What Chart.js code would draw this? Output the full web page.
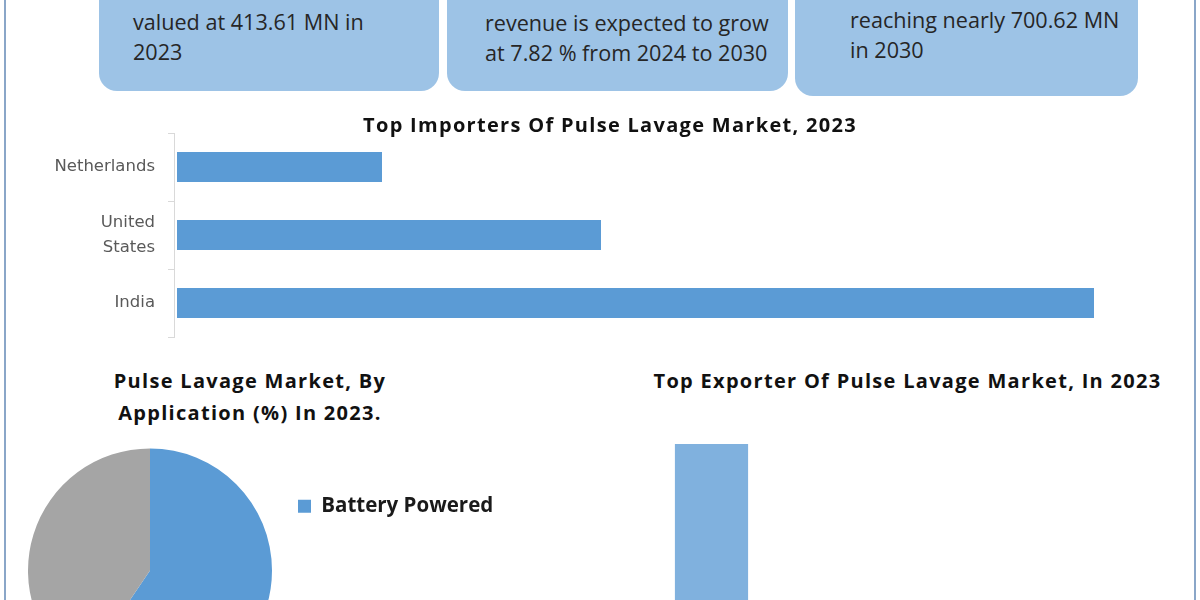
<!DOCTYPE html>
<html>
<head>
<meta charset="utf-8">
<title>Pulse Lavage Market</title>
<script src="https://cdn.jsdelivr.net/npm/chart.js"></script>
<style>
  html, body { margin: 0; padding: 0; }
  body { width: 1200px; height: 600px; overflow: hidden; position: relative; background: #fff; font-family: "Open Sans", sans-serif; }
  .frame { position: absolute; top: 0; width: 2px; height: 600px; background: #8aa6c8; }
  .box { position: absolute; background: #9dc3e6; border-radius: 18px; }
  .txt { position: absolute; white-space: nowrap; color: #262626; font-size: 21.6px; line-height: 30px; }
  .ttl { position: absolute; white-space: nowrap; color: #111; font-weight: 700; font-size: 20px; letter-spacing: 1.3px; line-height: 32px; text-align: center; }
  canvas { position: absolute; }
</style>
</head>
<body>
<div class="frame" style="left:4px"></div>
<div class="frame" style="left:1194px"></div>

<div class="box" style="left:99px; top:-40px; width:340px; height:131px"></div>
<div class="box" style="left:447px; top:-40px; width:341px; height:131px"></div>
<div class="box" style="left:795px; top:-40px; width:343px; height:136px"></div>

<div class="txt" style="left:133px; top:7px">valued at 413.61 MN in<br>2023</div>
<div class="txt" style="left:485px; top:8px">revenue is expected to grow<br>at 7.82 % from 2024 to 2030</div>
<div class="txt" style="left:850px; top:5px">reaching nearly 700.62 MN<br>in 2030</div>

<canvas id="importers" width="1200" height="224" style="left:0; top:123px"></canvas>
<canvas id="application" width="536" height="260" style="left:12px; top:440px"></canvas>
<canvas id="exporters" width="549" height="320" style="left:620px; top:420px"></canvas>

<div class="ttl" style="left:0; width:1220px; top:109px">Top Importers Of Pulse Lavage Market, 2023</div>
<div class="ttl" style="left:0; width:500px; top:365px">Pulse Lavage Market, By<br>Application (%) In 2023.</div>
<div class="ttl" style="left:615px; width:585px; top:365px">Top Exporter Of Pulse Lavage Market, In 2023</div>

<script>
// importers (bar lengths, arbitrary units)
const importCountries = ['Netherlands', ['United', 'States'], 'India'];
const importValues = [20.5, 42.4, 91.7];

// application split (%)
const applicationLabels = ['Battery Powered', 'Electric Powered'];
const applicationShares = [59.5, 40.5];

// exporters (only the first bar shows above the fold)
const exportCountries = ['Germany', 'United States', 'China'];
const exportValues = [92.5, 43, 42.5];

const blue = '#5b9bd5';
const grey = '#a5a5a5';

new Chart(document.getElementById('importers'), {
  type: 'bar',
  data: {
    labels: importCountries,
    datasets: [{
      data: importValues,
      backgroundColor: blue,
      barPercentage: 0.44,
      categoryPercentage: 1
    }]
  },
  options: {
    indexAxis: 'y',
    responsive: false,
    animation: false,
    layout: { padding: { top: 10, bottom: 10, left: 0, right: 0 } },
    plugins: { legend: { display: false }, tooltip: { enabled: false } },
    scales: {
      x: { display: false, min: -0.3, max: 102.3 },
      y: {
        border: { color: '#d9d9d9' },
        grid: { offset: true, drawOnChartArea: false, tickLength: 6, color: '#d9d9d9' },
        ticks: {
          color: '#595959',
          padding: 13,
          font: { family: '"DejaVu Sans"', size: 16.5, lineHeight: 1.52 }
        },
        afterFit: (scale) => {
          scale.width = 174;
          scale.paddingTop = 0;
          scale.paddingBottom = 0;
        }
      }
    }
  }
});

new Chart(document.getElementById('application'), {
  type: 'pie',
  data: {
    labels: applicationLabels,
    datasets: [{
      data: applicationShares,
      backgroundColor: [blue, grey],
      borderWidth: 0,
      radius: 122
    }]
  },
  options: {
    responsive: false,
    animation: false,
    layout: { padding: { top: 46, bottom: 45, left: 0, right: 50 } },
    plugins: {
      tooltip: { enabled: false },
      legend: {
        position: 'right',
        align: 'start',
        maxWidth: 210,
        labels: {
          boxWidth: 13,
          boxHeight: 13,
          padding: 10,
          color: '#1a1a1a',
          font: { family: '"Open Sans"', size: 20.5, weight: 'bold' },
          // the second entry sits below the visible area in the original
          filter: (item) => item.index === 0
        }
      }
    }
  }
});

new Chart(document.getElementById('exporters'), {
  type: 'bar',
  data: {
    labels: exportCountries,
    datasets: [{
      data: exportValues,
      backgroundColor: '#80b1de',
      barPercentage: 0.4,
      categoryPercentage: 1
    }]
  },
  options: {
    responsive: false,
    animation: false,
    layout: { padding: 0 },
    plugins: { legend: { display: false }, tooltip: { enabled: false } },
    scales: {
      x: { display: false },
      y: { display: false, min: 0, max: 100 }
    }
  }
});
</script>
</body>
</html>
